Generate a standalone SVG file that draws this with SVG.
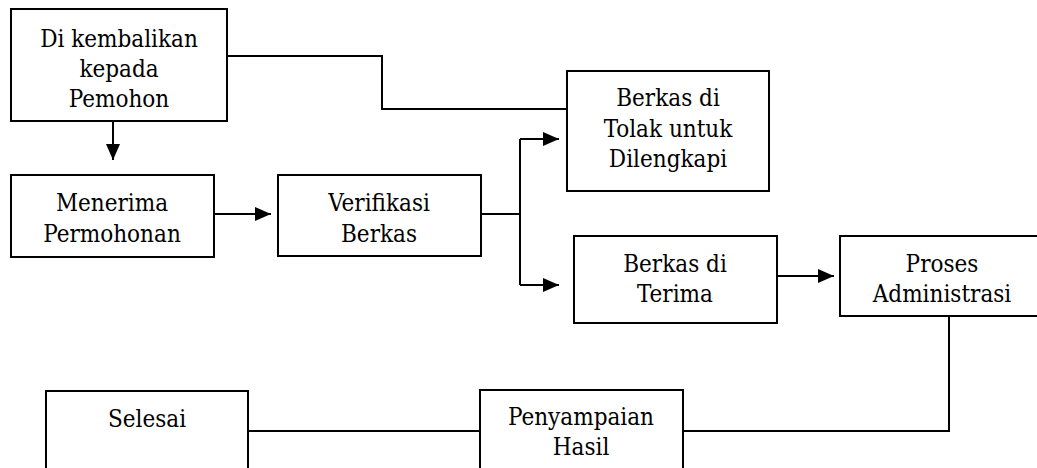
<svg xmlns="http://www.w3.org/2000/svg" width="1037" height="468" viewBox="0 0 1037 468">
<style>
.box{fill:#fff;stroke:#000;stroke-width:2}
.ln{fill:none;stroke:#000;stroke-width:2}
.t text{font-family:"DejaVu Serif Condensed","DejaVu Serif",serif;font-stretch:condensed;font-size:24px;fill:#000;text-anchor:middle}
</style>
<defs>
<marker id="ah" viewBox="0 0 16 14" refX="16" refY="7" markerWidth="16" markerHeight="14" markerUnits="userSpaceOnUse" orient="auto">
<path d="M0,0 L16,7 L0,14 Z" fill="#000"/>
</marker>
</defs>
<rect width="1037" height="468" fill="#fff"/>
<g id="connectors">
<path class="ln" d="M227,56 H382 V109 H567"/>
<path class="ln" d="M113,121 V160" marker-end="url(#ah)"/>
<path class="ln" d="M214,214 H271" marker-end="url(#ah)"/>
<path class="ln" d="M481,214 H520"/>
<path class="ln" d="M520,139 V285"/>
<path class="ln" d="M520,139 H559" marker-end="url(#ah)"/>
<path class="ln" d="M520,285 H559" marker-end="url(#ah)"/>
<path class="ln" d="M777,276 H834" marker-end="url(#ah)"/>
<path class="ln" d="M949,316 V431 H683"/>
<path class="ln" d="M480,431 H248"/>
</g>
<g id="n-kembali" class="t">
<rect class="box" x="11" y="9" width="216" height="112"/>
<text x="119" y="47">Di kembalikan</text>
<text x="119" y="77">kepada</text>
<text x="119" y="107">Pemohon</text>
</g>
<g id="n-menerima" class="t">
<rect class="box" x="11" y="175" width="203" height="82"/>
<text x="112" y="211">Menerima</text>
<text x="112" y="242">Permohonan</text>
</g>
<g id="n-verifikasi" class="t">
<rect class="box" x="278" y="175" width="203" height="81"/>
<text x="379" y="211">Verifikasi</text>
<text x="379" y="242">Berkas</text>
</g>
<g id="n-tolak" class="t">
<rect class="box" x="567" y="71" width="202" height="120"/>
<text x="668" y="106">Berkas di</text>
<text x="668" y="137">Tolak untuk</text>
<text x="668" y="167">Dilengkapi</text>
</g>
<g id="n-terima" class="t">
<rect class="box" x="574" y="236" width="203" height="87"/>
<text x="675" y="272">Berkas di</text>
<text x="675" y="302">Terima</text>
</g>
<g id="n-proses" class="t">
<rect class="box" x="840" y="236" width="205" height="80"/>
<text x="942" y="272">Proses</text>
<text x="942" y="302">Administrasi</text>
</g>
<g id="n-penyampaian" class="t">
<rect class="box" x="480" y="390" width="203" height="100"/>
<text x="581" y="425">Penyampaian</text>
<text x="581" y="455">Hasil</text>
</g>
<g id="n-selesai" class="t">
<rect class="box" x="46" y="391" width="202" height="100"/>
<text x="147" y="427">Selesai</text>
</g>
</svg>
